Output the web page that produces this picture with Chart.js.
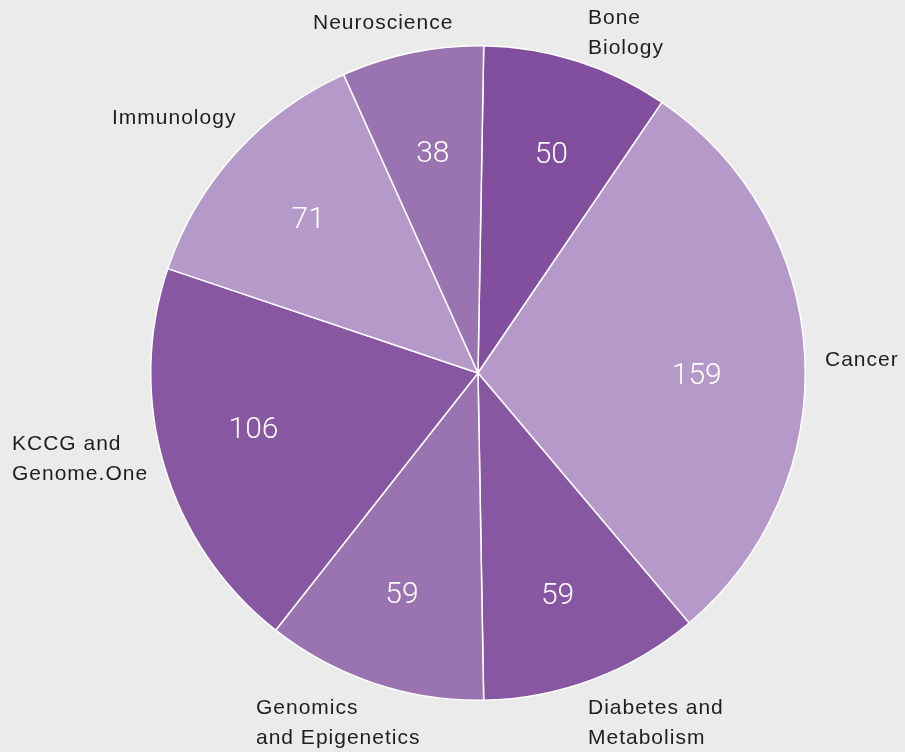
<!DOCTYPE html>
<html>
<head>
<meta charset="utf-8">
<script src="https://cdn.jsdelivr.net/npm/chart.js@4"></script>
<style>
  html, body { margin: 0; padding: 0; background: #ebebeb; }
  #wrap { width: 905px; height: 752px; }
</style>
</head>
<body>
<div id="wrap"><canvas id="pieChart" width="905" height="752"></canvas></div>
<script>
// data, clockwise from the top
const categories = ['Bone Biology', 'Cancer', 'Diabetes and Metabolism', 'Genomics and Epigenetics',
    'KCCG and Genome.One', 'Immunology', 'Neuroscience'];
const projectCounts = [50, 159, 59, 59, 106, 71, 38];
const sliceColors = ['#824f9e', '#b59ac9', '#8857a1', '#9a74b0', '#8857a1', '#b59ac9', '#9a74b0'];

// outside label lines, with offsets from the pie centre (text baseline, left aligned)
const labelLines = [
    ['Bone', 'Biology'],
    ['Cancer'],
    ['Diabetes and', 'Metabolism'],
    ['Genomics', 'and Epigenetics'],
    ['KCCG and', 'Genome.One'],
    ['Immunology'],
    ['Neuroscience']
];
const labelOffsets = [
    [110, -349], [347, -7], [110, 341], [-222, 341], [-466, 77], [-366, -249], [-165, -344]
];
// small nudges for the value text inside each slice
const valueNudge = [[4, 0], [-10, 14], [-1, 8], [-3, 4], [-5, -9], [0, 0], [1, 5]];

const labelPlugin = {
    id: 'pieLabels',
    afterDatasetsDraw(chart) {
        const ctx = chart.ctx;
        const meta = chart.getDatasetMeta(0);
        const arc0 = meta.data[0];
        const cx = arc0.x, cy = arc0.y;
        ctx.save();
        // values inside the slices
        ctx.fillStyle = '#ffffff';
        ctx.font = '300 30px Roboto';
        ctx.textAlign = 'center';
        ctx.textBaseline = 'middle';
        meta.data.forEach((arc, i) => {
            const p = arc.getProps(['startAngle', 'endAngle', 'outerRadius']);
            const mid = (p.startAngle + p.endAngle) / 2;
            const r = p.outerRadius * 0.7;
            ctx.fillText(String(projectCounts[i]),
                cx + Math.cos(mid) * r + valueNudge[i][0],
                cy + Math.sin(mid) * r + 1 + valueNudge[i][1]);
        });
        // category names outside
        ctx.fillStyle = '#1e1e1e';
        ctx.font = '400 21px "Liberation Sans"';
        ctx.letterSpacing = '1px';
        ctx.textAlign = 'left';
        ctx.textBaseline = 'alphabetic';
        labelLines.forEach((lines, i) => {
            lines.forEach((t, j) => {
                ctx.fillText(t, cx + labelOffsets[i][0], cy + labelOffsets[i][1] + j * 29.5);
            });
        });
        ctx.restore();
    }
};

const ctx = document.getElementById('pieChart').getContext('2d');
const pieChart = new Chart(ctx, {
    type: 'pie',
    data: {
        labels: categories,
        datasets: [{
            data: projectCounts,
            backgroundColor: sliceColors,
            borderColor: '#ffffff',
            borderWidth: 1.5
        }]
    },
    options: {
        responsive: false,
        animation: false,
        rotation: 1,
        layout: { padding: { top: 45, bottom: 51, left: 150, right: 99 } },
        plugins: {
            legend: { display: false },
            tooltip: { enabled: false }
        }
    },
    plugins: [labelPlugin]
});
</script>
</body>
</html>
